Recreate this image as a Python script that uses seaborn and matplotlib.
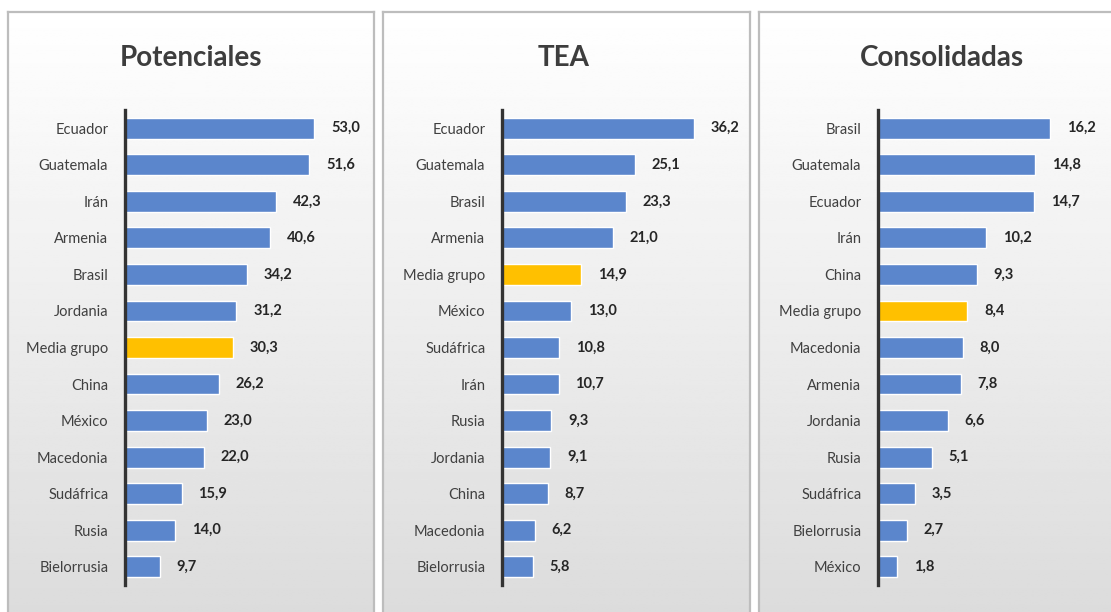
import numpy as np
import matplotlib.pyplot as plt
import seaborn as sns

# data
pot_names = ["Ecuador", "Guatemala", "Irán", "Armenia", "Brasil", "Jordania", "Media grupo",
             "China", "México", "Macedonia", "Sudáfrica", "Rusia", "Bielorrusia"]
pot_values = [53.0, 51.6, 42.3, 40.6, 34.2, 31.2, 30.3, 26.2, 23.0, 22.0, 15.9, 14.0, 9.7]

tea_names = ["Ecuador", "Guatemala", "Brasil", "Armenia", "Media grupo", "México", "Sudáfrica",
             "Irán", "Rusia", "Jordania", "China", "Macedonia", "Bielorrusia"]
tea_values = [36.2, 25.1, 23.3, 21.0, 14.9, 13.0, 10.8, 10.7, 9.3, 9.1, 8.7, 6.2, 5.8]

con_names = ["Brasil", "Guatemala", "Ecuador", "Irán", "China", "Media grupo", "Macedonia",
             "Armenia", "Jordania", "Rusia", "Sudáfrica", "Bielorrusia", "México"]
con_values = [16.2, 14.8, 14.7, 10.2, 9.3, 8.4, 8.0, 7.8, 6.6, 5.1, 3.5, 2.7, 1.8]

titles = ["Potenciales", "TEA", "Consolidadas"]

BLUE = "#5B86CC"
YELLOW = "#FFC000"

sns.set_style("white")
plt.rcParams['font.family'] = ['Lato', 'DejaVu Sans']

fig = plt.figure(figsize=(11.11, 6.12), dpi=100)
W, H = 1111, 612

# panel boxes with white-to-grey gradient (pixel coords)
boxes = [(8, 374), (383, 750), (759, 1130)]
grad = np.linspace(1.0, 0.855, 256).reshape(-1, 1)
for x0, x1 in boxes:
    bg = fig.add_axes([x0 / W, -0.05, (x1 - x0) / W, (H - 12) / H + 0.05], zorder=0)
    bg.imshow(grad, cmap="gray", vmin=0, vmax=1, aspect="auto", extent=[0, 1, 0, 1])
    bg.set_xticks([])
    bg.set_yticks([])
    for s in bg.spines.values():
        s.set_color("#bdbdbd")
        s.set_linewidth(1.6)

# axes positions: left pixel, right pixel, xmax, title centre
panels = [
    (pot_names, pot_values, 125, 365, 67.2, 191),
    (tea_names, tea_values, 502, 740, 44.9, 564),
    (con_names, con_values, 878, 1100, 20.9, 942),
]
top, bottom = 110, 585

for (names, values, xl, xr, xmax, tx), title in zip(panels, titles):
    ax = fig.add_axes([xl / W, 1 - bottom / H, (xr - xl) / W, (bottom - top) / H], zorder=1)
    ax.patch.set_alpha(0)
    colors = [YELLOW if n == "Media grupo" else BLUE for n in names]
    sns.barplot(x=values, y=names, hue=names, palette=colors, legend=False,
                width=0.57, ax=ax, saturation=1)
    for c, v in zip(ax.containers, values):
        ax.bar_label(c, labels=[f"{v:.1f}".replace(".", ",")], padding=12,
                     fontsize=10.5, fontweight="bold", color="#262626")
    ax.set_xlim(0, xmax)
    ax.set_ylim(12.5, -0.5)
    ax.set_xlabel("")
    ax.set_ylabel("")
    ax.set_xticks([])
    ax.tick_params(axis="y", length=0, pad=12, labelsize=10.5, labelcolor="#404040")
    for s in ["top", "right", "bottom"]:
        ax.spines[s].set_visible(False)
    ax.spines["left"].set_color("#333333")
    ax.spines["left"].set_linewidth(2.4)
    fig.text(tx / W, 1 - 58 / H, title, ha="center", va="center",
             fontsize=20, fontweight="bold", color="#3d3d3d")

fig.savefig("out.png", dpi=100)
